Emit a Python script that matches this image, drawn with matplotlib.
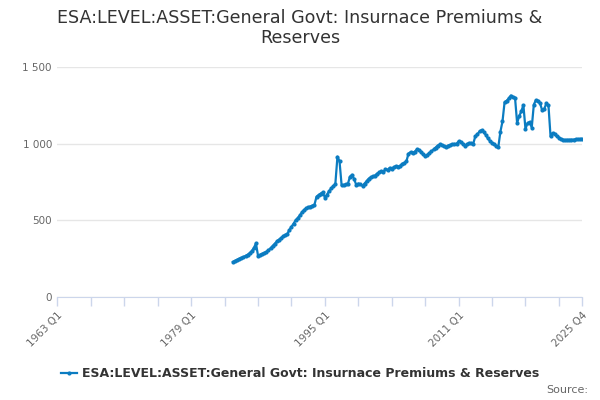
import matplotlib
matplotlib.use("Agg")
import matplotlib.pyplot as plt
from matplotlib.lines import Line2D

title = "ESA:LEVEL:ASSET:General Govt: Insurnace Premiums &\nReserves"
series_name = "ESA:LEVEL:ASSET:General Govt: Insurnace Premiums & Reserves"

years = list(range(1963, 2026))
categories = [f"{y} Q{q}" for y in years for q in range(1, 5)]
start_label = "1984 Q1"

values = [
    229, 236, 243, 250, 256, 261, 268, 276, 286, 300, 320, 350,
    268, 276, 282, 288, 295, 305, 318, 333, 348, 362, 374, 385,
    396, 405, 412, 437, 458, 478, 500, 515, 532, 552, 568, 578,
    585, 590, 596, 602, 655, 665, 675, 683, 648, 668, 690, 708,
    722, 738, 915, 885, 728, 731, 735, 738, 785, 797, 768, 732,
    740, 735, 725, 740, 756, 772, 782, 786, 792, 805, 812, 820,
    818, 832, 830, 842, 838, 848, 852, 850, 856, 868, 875, 884,
    935, 945, 940, 948, 962, 958, 948, 930, 918, 928, 938, 950,
    962, 975, 988, 995, 990, 985, 978, 988, 992, 995, 998, 1000,
    1015, 1010, 1000, 988, 995, 1005, 1002, 1000, 1048, 1060, 1080, 1088,
    1075, 1058, 1035, 1018, 1005, 995, 985, 978, 1078, 1145, 1270, 1280,
    1295, 1314, 1303, 1300, 1135, 1180, 1210, 1252, 1096, 1135, 1140, 1105,
    1255, 1284, 1280, 1262, 1218, 1228, 1262, 1250, 1048, 1070, 1060, 1048,
    1040, 1030, 1026, 1024, 1025, 1025, 1026, 1027, 1028, 1029, 1030, 1032,
]

yticks = [0, 500, 1000, 1500]
ytick_labels = ["0", "500", "1 000", "1 500"]
xtick_labels = ["1963 Q1", "1979 Q1", "1995 Q1", "2011 Q1", "2025 Q4"]
source_text = "Source:"

line_color = "#0b7cc1"

fig = plt.figure(figsize=(6, 4), dpi=100)
ax = fig.add_axes([0.0958, 0.2575, 0.874, 0.575])

start = categories.index(start_label)
xs = list(range(start, start + len(values)))
ax.plot(xs, values, color=line_color, lw=1.6, marker="o", ms=2.0, mec=line_color, mfc=line_color)

ax.set_xlim(0, len(categories) - 1)
ax.set_ylim(0, 1500)
ax.set_yticks(yticks)
ax.set_yticklabels(ytick_labels, color="#666666", fontsize=7.5)
ax.yaxis.grid(True, color="#e6e6e6", lw=1)
ax.set_axisbelow(True)

minor_pos = list(range(0, len(categories), 16)) + [len(categories) - 1]
ax.set_xticks(minor_pos, minor=True)
major_pos = [categories.index(l) for l in xtick_labels]
ax.set_xticks(major_pos)
ax.set_xticklabels(xtick_labels, rotation=45, ha="right", rotation_mode="anchor",
                   color="#666666", fontsize=7.5)
ax.tick_params(axis="x", which="both", length=6.5, color="#ccd6eb", width=1, pad=3)
ax.tick_params(axis="y", length=0, pad=4)

for s in ["top", "right", "left"]:
    ax.spines[s].set_visible(False)
ax.spines["bottom"].set_color("#ccd6eb")

fig.text(0.5, 0.93, title, ha="center", va="center", fontsize=12.6, color="#333333",
         linespacing=1.15)

handle = Line2D([], [], color=line_color, lw=1.6, marker="o", ms=2.0)
fig.legend([handle], [series_name], loc="center", bbox_to_anchor=(0.5, 0.066),
           frameon=False, prop={"size": 9, "weight": "bold"}, labelcolor="#333333",
           handlelength=1.3, handletextpad=0.4)
fig.text(0.98, 0.025, source_text, ha="right", va="center", fontsize=8, color="#666666")

fig.savefig("out.png", dpi=100)
